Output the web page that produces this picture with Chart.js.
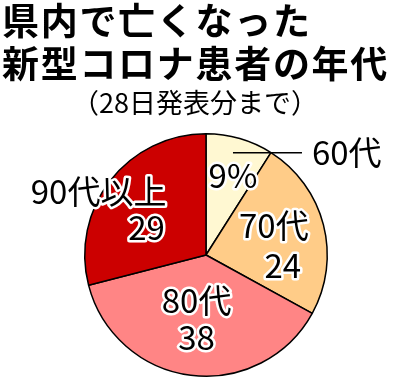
<!DOCTYPE html>
<html lang="ja">
<head>
<meta charset="utf-8">
<script src="https://cdn.jsdelivr.net/npm/chart.js@4"></script>
<style>
  html, body { margin: 0; padding: 0; background: #fff; }
  #wrap { width: 400px; height: 378px; }
</style>
</head>
<body>
<div id="wrap"><canvas id="ageChart" width="400" height="378"></canvas></div>
<script>
// data
const ageGroups = ['60代', '70代', '80代', '90代以上'];
const deathShare = [9, 24, 38, 29];
const titleLines = ['県内で亡くなった', '新型コロナ患者の年代'];
const subTitle = '（28日発表分まで）';

const sliceColors = ['#FFF8D2', '#FFCC88', '#FF8585', '#CC0000'];
const FONT = '"Noto Sans CJK JP", "Noto Sans", sans-serif';

// label lines inside each slice and their offsets from the slice anchor
const sliceText = [
    [deathShare[0] + '%'],
    [ageGroups[1], String(deathShare[1])],
    [ageGroups[2], String(deathShare[2])],
    [ageGroups[3], String(deathShare[3])]
];
const textOffsets = [
    [[6, -7]],
    [[-5, -11], [4, 29]],
    [[0, -29], [0, 8]],
    [[-48, -17], [0, 19]]
];

const headerPlugin = {
    id: 'header',
    afterDraw(chart) {
        const ctx = chart.ctx;
        ctx.save();
        ctx.fillStyle = '#000';
        ctx.textBaseline = 'middle';
        ctx.textAlign = 'left';
        ctx.font = 'bold 37px ' + FONT;
        ctx.letterSpacing = '1.7px';
        ctx.fillText(titleLines[0], 2, 21);
        ctx.fillText(titleLines[1], 2, 64);
        ctx.letterSpacing = '0px';
        ctx.font = '27px ' + FONT;
        ctx.textAlign = 'center';
        ctx.fillText(subTitle, 195, 103);
        ctx.restore();
    }
};

const sliceLabelPlugin = {
    id: 'sliceLabels',
    afterDatasetsDraw(chart) {
        const ctx = chart.ctx;
        const meta = chart.getDatasetMeta(0);
        ctx.save();
        ctx.textAlign = 'center';
        ctx.textBaseline = 'middle';
        ctx.font = '33px ' + FONT;
        ctx.lineJoin = 'round';
        meta.data.forEach((arc, i) => {
            const p = arc.getProps(['x', 'y', 'startAngle', 'endAngle', 'outerRadius'], true);
            const mid = (p.startAngle + p.endAngle) / 2;
            const ax = p.x + Math.cos(mid) * p.outerRadius * 0.62;
            const ay = p.y + Math.sin(mid) * p.outerRadius * 0.62;
            sliceText[i].forEach((t, j) => {
                const tx = ax + textOffsets[i][j][0];
                const ty = ay + textOffsets[i][j][1];
                ctx.strokeStyle = '#fff';
                ctx.lineWidth = 5;
                ctx.strokeText(t, tx, ty);
                ctx.fillStyle = '#000';
                ctx.fillText(t, tx, ty);
            });
            if (i === 0) {
                // leader line to the outside 60代 label
                ctx.strokeStyle = '#000';
                ctx.lineWidth = 1.5;
                ctx.beginPath();
                ctx.moveTo(ax + 6, ay - 30);
                ctx.lineTo(ax + 75, ay - 30);
                ctx.stroke();
                ctx.fillStyle = '#000';
                ctx.textAlign = 'left';
                ctx.fillText(ageGroups[0], ax + 85, ay - 30);
                ctx.textAlign = 'center';
            }
        });
        ctx.restore();
    }
};

const ctx = document.getElementById('ageChart').getContext('2d');
const ageChart = new Chart(ctx, {
    type: 'pie',
    data: {
        labels: ageGroups,
        datasets: [{
            data: deathShare,
            backgroundColor: sliceColors,
            borderColor: '#000',
            borderWidth: 1.5
        }]
    },
    options: {
        responsive: false,
        animation: false,
        layout: {
            padding: { top: 133, bottom: 1, left: 12, right: 0 }
        },
        plugins: {
            legend: { display: false },
            title: { display: false },
            tooltip: { enabled: false }
        }
    },
    plugins: [headerPlugin, sliceLabelPlugin]
});
</script>
</body>
</html>
